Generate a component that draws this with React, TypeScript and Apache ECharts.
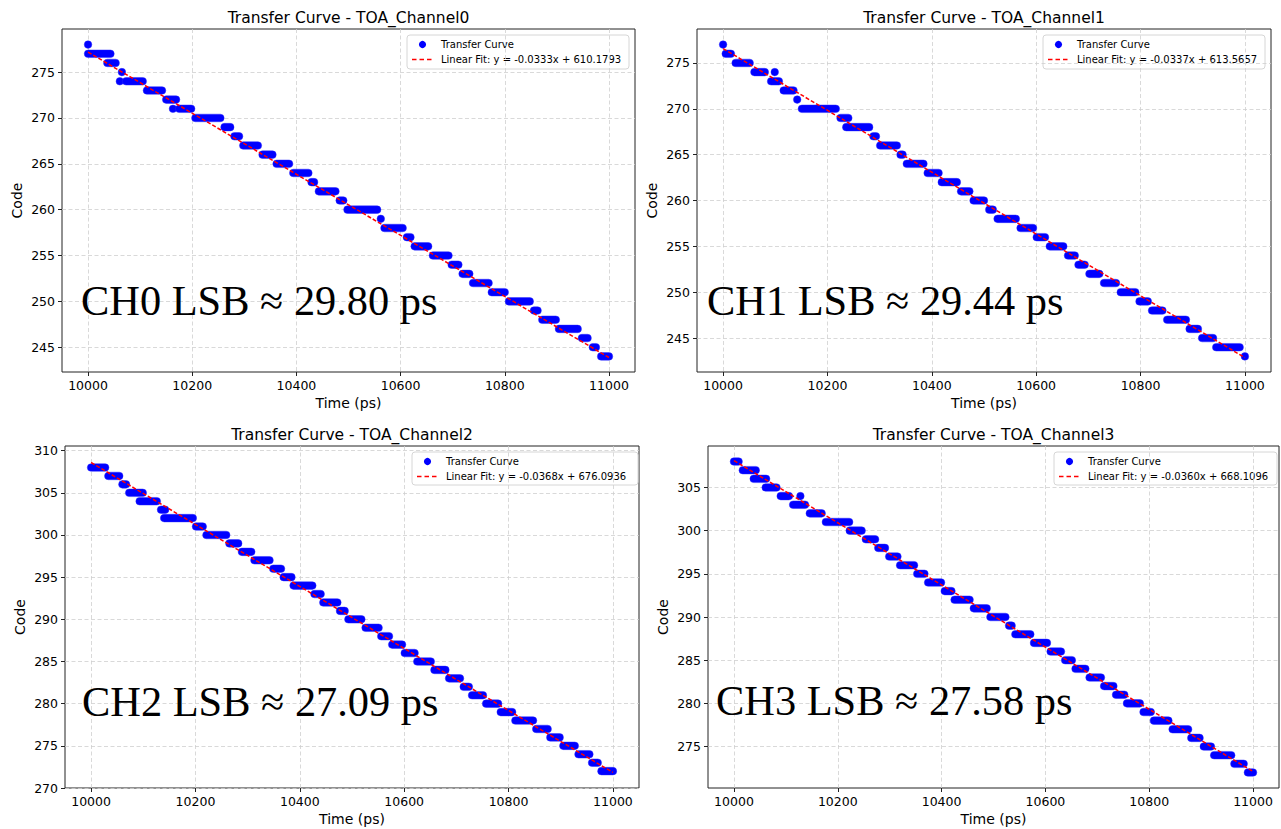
import React, { useEffect, useRef } from 'react';
import * as echarts from 'echarts';

// ---------------- data ----------------
const channelNames = ['TOA_Channel0', 'TOA_Channel1', 'TOA_Channel2', 'TOA_Channel3'];
const lsbLabels = ['CH0 LSB ≈ 29.80 ps', 'CH1 LSB ≈ 29.44 ps', 'CH2 LSB ≈ 27.09 ps', 'CH3 LSB ≈ 27.58 ps'];
// legend text (rounded values as printed)
const fitLabels = [
  'Linear Fit: y = -0.0333x + 610.1793',
  'Linear Fit: y = -0.0337x + 613.5657',
  'Linear Fit: y = -0.0368x + 676.0936',
  'Linear Fit: y = -0.0360x + 668.1096',
];
// slopes / intercepts of the drawn fit lines
const fitSlopes = [-0.0333, -0.0337, -0.03675, -0.036];
const fitIntercepts = [610.1793, 613.5657, 676.0936, 668.1096];
const fitRange = [10000, 11000];
const xTicks = [10000, 10200, 10400, 10600, 10800, 11000];
const yTicksCh0 = [245, 250, 255, 260, 265, 270, 275];
const yTicksCh1 = [245, 250, 255, 260, 265, 270, 275];
const yTicksCh2 = [270, 275, 280, 285, 290, 295, 300, 305, 310];
const yTicksCh3 = [275, 280, 285, 290, 295, 300, 305];

// transfer curve steps: [code, first time (ps), last time (ps)]
const ch0Steps: number[][] = [
  [278, 10000, 10000], [277, 10000, 10043], [276, 10037, 10053], [275, 10065, 10065],
  [274, 10061, 10061], [274, 10073, 10105], [273, 10113, 10142], [272, 10150, 10169],
  [271, 10163, 10163], [271, 10175, 10198], [270, 10206, 10254], [269, 10262, 10273],
  [268, 10281, 10290], [267, 10298, 10326], [266, 10335, 10354], [265, 10362, 10386],
  [264, 10394, 10423], [263, 10429, 10434], [262, 10443, 10475], [261, 10483, 10490],
  [260, 10498, 10555], [259, 10562, 10562], [258, 10569, 10604], [257, 10612, 10619],
  [256, 10627, 10653], [255, 10662, 10692], [254, 10698, 10711], [253, 10719, 10732],
  [252, 10739, 10769], [251, 10775, 10800], [250, 10808, 10848], [249, 10856, 10863],
  [248, 10872, 10898], [247, 10904, 10940], [246, 10948, 10959], [245, 10969, 10975],
  [244, 10985, 11000],
];
const ch1Steps: number[][] = [
  [277, 10000, 10000], [276, 10005, 10015], [275, 10024, 10051], [274, 10060, 10080],
  [274, 10099, 10099], [273, 10092, 10107], [272, 10116, 10135], [271, 10142, 10142],
  [270, 10151, 10216], [269, 10225, 10240], [268, 10236, 10280], [267, 10288, 10293],
  [266, 10301, 10333], [265, 10340, 10344], [264, 10352, 10384], [263, 10392, 10413],
  [262, 10419, 10448], [261, 10456, 10472], [260, 10480, 10500], [259, 10510, 10517],
  [258, 10526, 10561], [257, 10570, 10594], [256, 10601, 10617], [255, 10626, 10652],
  [254, 10661, 10674], [253, 10681, 10693], [252, 10702, 10721], [251, 10730, 10753],
  [250, 10762, 10790], [249, 10798, 10814], [248, 10822, 10842], [247, 10851, 10887],
  [246, 10894, 10910], [245, 10918, 10939], [244, 10945, 10990], [243, 11000, 11000],
];
const ch2Steps: number[][] = [
  [308, 10000, 10027], [307, 10033, 10054], [306, 10060, 10067], [305, 10073, 10099],
  [304, 10093, 10126], [303, 10134, 10142], [302, 10140, 10195], [301, 10201, 10214],
  [300, 10221, 10259], [299, 10265, 10282], [298, 10289, 10307], [297, 10313, 10342],
  [296, 10349, 10364], [295, 10369, 10384], [294, 10388, 10424], [293, 10428, 10440],
  [292, 10445, 10472], [291, 10477, 10486], [290, 10493, 10518], [289, 10526, 10551],
  [288, 10556, 10571], [287, 10577, 10596], [286, 10601, 10620], [285, 10625, 10651],
  [284, 10658, 10679], [283, 10686, 10707], [282, 10714, 10724], [281, 10730, 10751],
  [280, 10757, 10780], [279, 10785, 10807], [278, 10813, 10847], [277, 10853, 10875],
  [276, 10880, 10898], [275, 10905, 10927], [274, 10934, 10955], [273, 10960, 10971],
  [272, 10978, 11000],
];
const ch3Steps: number[][] = [
  [308, 10000, 10009], [307, 10017, 10042], [306, 10038, 10062], [305, 10061, 10082],
  [304, 10090, 10106], [304, 10128, 10128], [303, 10114, 10137], [302, 10146, 10169],
  [301, 10177, 10222], [300, 10223, 10246], [299, 10254, 10272], [298, 10278, 10291],
  [297, 10299, 10315], [296, 10320, 10347], [295, 10353, 10367], [294, 10374, 10399],
  [293, 10406, 10419], [292, 10425, 10454], [291, 10462, 10487], [290, 10494, 10523],
  [289, 10530, 10535], [288, 10542, 10571], [287, 10578, 10603], [286, 10610, 10630],
  [285, 10638, 10651], [284, 10658, 10677], [283, 10685, 10707], [282, 10713, 10731],
  [281, 10736, 10752], [280, 10757, 10782], [279, 10789, 10803], [278, 10809, 10837],
  [277, 10845, 10875], [276, 10881, 10897], [275, 10905, 10919], [274, 10925, 10958],
  [273, 10964, 10982], [272, 10990, 11000],
];

const stepsByChannel = [ch0Steps, ch1Steps, ch2Steps, ch3Steps];
const yTicksByChannel = [yTicksCh0, yTicksCh1, yTicksCh2, yTicksCh3];

// ---------------- layout ----------------
const grids = [
  { left: 62, top: 29, width: 573, height: 343 },
  { left: 697, top: 29, width: 574, height: 343 },
  { left: 65, top: 446, width: 574, height: 342 },
  { left: 708, top: 446, width: 571, height: 342 },
];
const xLimits = [9950, 11050];
const yLimits = [
  [242.3, 279.7],
  [241.3, 278.7],
  [270.0, 310.55],
  [270.2, 309.8],
];
const legendBoxes = [
  { x: 407, y: 35, w: 222, h: 34 },
  { x: 1043, y: 35, w: 222, h: 34 },
  { x: 412, y: 452, w: 226, h: 33 },
  { x: 1054, y: 452, w: 223, h: 33 },
];
const lsbPos = [
  { x: 81, y: 300 },
  { x: 707, y: 300 },
  { x: 82, y: 701 },
  { x: 716, y: 700 },
];
const DOT_R = 3.8;
const SANS = 'DejaVu Sans';

function buildOption() {
  const grid: any[] = [];
  const xAxis: any[] = [];
  const yAxis: any[] = [];
  const series: any[] = [];
  const graphic: any[] = [];

  grids.forEach((g, i) => {
    grid.push({
      left: g.left, top: g.top, width: g.width, height: g.height,
      show: true, borderColor: '#222', borderWidth: 1, backgroundColor: '#fff',
    });
    xAxis.push({
      type: 'value', gridIndex: i, min: xLimits[0], max: xLimits[1],
      axisLine: { show: false },
      axisTick: { show: true, length: 4, customValues: xTicks, lineStyle: { color: '#222' } },
      axisLabel: {
        customValues: xTicks, margin: 7, color: '#000', fontFamily: SANS, fontSize: 12.5,
        formatter: (v: number) => String(v),
      },
      splitLine: { show: true, lineStyle: { color: '#cfcfcf', type: [4, 2.5], width: 0.8 } },
    });
    yAxis.push({
      type: 'value', gridIndex: i, min: yLimits[i][0], max: yLimits[i][1],
      axisLine: { show: false },
      axisTick: { show: true, length: 4, customValues: yTicksByChannel[i], lineStyle: { color: '#222' } },
      axisLabel: {
        customValues: yTicksByChannel[i], margin: 7, color: '#000', fontFamily: SANS, fontSize: 12.5,
        formatter: (v: number) => String(v),
      },
      splitLine: { show: true, lineStyle: { color: '#cfcfcf', type: [4, 2.5], width: 0.8 } },
    });

    series.push({
      type: 'custom', name: 'Transfer Curve', xAxisIndex: i, yAxisIndex: i,
      data: stepsByChannel[i],
      encode: { x: [1, 2], y: 0 },
      z: 3,
      renderItem: (params: any, api: any) => {
        const code = api.value(0);
        const p0 = api.coord([api.value(1), code]);
        const p1 = api.coord([api.value(2), code]);
        return {
          type: 'rect',
          shape: { x: p0[0] - DOT_R, y: p0[1] - DOT_R, width: p1[0] - p0[0] + 2 * DOT_R, height: 2 * DOT_R, r: DOT_R },
          style: { fill: '#0000ff', stroke: 'rgba(40,40,255,0.55)', lineWidth: 0.8 },
        };
      },
    });
    const a = fitSlopes[i];
    const b = fitIntercepts[i];
    series.push({
      type: 'line', name: 'Linear Fit ' + i, xAxisIndex: i, yAxisIndex: i,
      data: fitRange.map((x) => [x, a * x + b]),
      symbol: 'none', z: 5,
      lineStyle: { color: '#ff0000', width: 1.5, type: [4, 2] },
    });

    // title
    graphic.push({
      type: 'text', x: g.left + g.width / 2, y: g.top - 11,
      style: { text: 'Transfer Curve - ' + channelNames[i], font: `15.5px "${SANS}"`, fill: '#000', align: 'center', verticalAlign: 'middle' },
    });
    // x axis name
    graphic.push({
      type: 'text', x: g.left + g.width / 2, y: g.top + g.height + 31,
      style: { text: 'Time (ps)', font: `14px "${SANS}"`, fill: '#000', align: 'center', verticalAlign: 'middle' },
    });
    // y axis name
    graphic.push({
      type: 'text', x: g.left - 45, y: g.top + g.height / 2, rotation: Math.PI / 2,
      style: { text: 'Code', font: `14px "${SANS}"`, fill: '#000', align: 'center', verticalAlign: 'middle' },
    });
    // LSB annotation
    graphic.push({
      type: 'text', x: lsbPos[i].x, y: lsbPos[i].y,
      style: { text: lsbLabels[i], font: '42.4px "Liberation Serif"', fill: '#000', align: 'left', verticalAlign: 'middle' },
      z: 10,
    });
    // legend
    const L = legendBoxes[i];
    const r1 = L.y + 9.5;
    const r2 = L.y + 24.5;
    graphic.push({
      type: 'group', z: 20,
      children: [
        { type: 'rect', shape: { x: L.x, y: L.y, width: L.w, height: L.h, r: 3 }, style: { fill: 'rgba(255,255,255,0.85)', stroke: '#d6d6d6', lineWidth: 1 } },
        { type: 'circle', shape: { cx: L.x + 15.5, cy: r1, r: 3.6 }, style: { fill: '#0000ff' } },
        { type: 'line', shape: { x1: L.x + 5, y1: r2, x2: L.x + 26, y2: r2 }, style: { stroke: '#ff0000', lineWidth: 1.5, lineDash: [4.5, 3] } },
        { type: 'text', x: L.x + 34, y: r1, style: { text: 'Transfer Curve', font: `10px "${SANS}"`, fill: '#000', verticalAlign: 'middle' } },
        { type: 'text', x: L.x + 34, y: r2, style: { text: fitLabels[i], font: `10px "${SANS}"`, fill: '#000', verticalAlign: 'middle' } },
      ],
    });
  });

  return {
    animation: false,
    backgroundColor: '#fff',
    grid, xAxis, yAxis, series, graphic,
  };
}

export default function App() {
  const ref = useRef<HTMLDivElement>(null);
  useEffect(() => {
    if (!ref.current) return;
    const chart = echarts.init(ref.current, undefined, { renderer: 'svg' });
    chart.setOption(buildOption() as any);
    return () => chart.dispose();
  }, []);
  return <div ref={ref} style={{ position: 'absolute', left: 0, top: 0, width: 1281, height: 829 }} />;
}
